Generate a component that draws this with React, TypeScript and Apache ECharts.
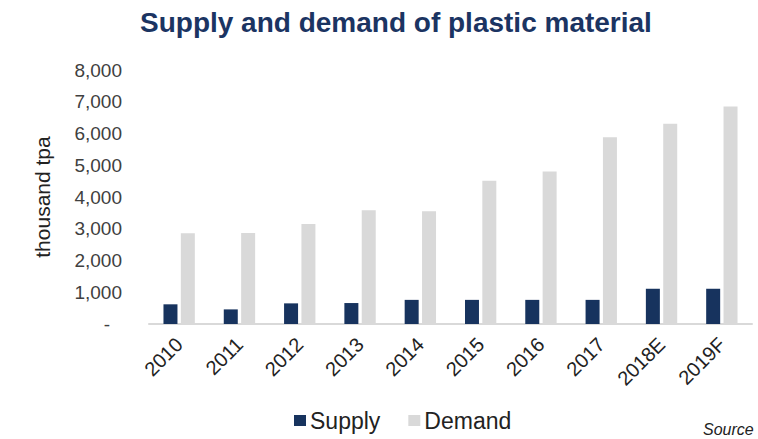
import React, { useEffect, useRef } from "react";
import * as echarts from "echarts";

const categories = ["2010", "2011", "2012", "2013", "2014", "2015", "2016", "2017", "2018E", "2019F"];
const supply = [620, 460, 650, 660, 760, 760, 760, 760, 1110, 1110];
const demand = [2860, 2870, 3150, 3580, 3550, 4510, 4800, 5880, 6310, 6850];
const yMin = 0;
const yMax = 8000;
const yInterval = 1000;

export default function App() {
  const ref = useRef<HTMLDivElement>(null);
  useEffect(() => {
    if (!ref.current) return;
    const chart = echarts.init(ref.current, undefined, { renderer: "svg" });
    const font = "Liberation Sans, Arial, sans-serif";
    chart.setOption({
      animation: false,
      backgroundColor: "#ffffff",
      title: {
        text: "Supply and demand of plastic material",
        left: 135,
        top: 3,
        textStyle: { fontFamily: font, fontSize: 28, fontWeight: "bold", color: "#1B3462" },
      },
      grid: { left: 149, right: 6, top: 70, bottom: 115, containLabel: false },
      legend: {
        data: ["Supply", "Demand"],
        left: 289,
        top: 404,
        itemWidth: 12,
        itemHeight: 11,
        itemGap: 28,
        icon: "rect",
        textStyle: { fontFamily: font, fontSize: 23, color: "#222222", padding: [0, 0, 0, -1] },
      },
      xAxis: {
        type: "category",
        data: categories,
        axisLine: { show: true, lineStyle: { color: "#D9D9D9", width: 2 } },
        axisTick: { show: false },
        axisLabel: {
          rotate: 45,
          interval: 0,
          margin: 17,
          fontFamily: font,
          fontSize: 20,
          color: "#222222",
        },
      },
      yAxis: {
        type: "value",
        min: yMin,
        max: yMax,
        interval: yInterval,
        name: "thousand tpa",
        nameLocation: "middle",
        nameRotate: 90,
        nameGap: 96,
        nameTextStyle: { fontFamily: font, fontSize: 21, color: "#222222" },
        splitLine: { show: false },
        axisLine: { show: false },
        axisTick: { show: false },
        axisLabel: {
          margin: 27,
          fontFamily: font,
          fontSize: 19,
          color: "#404040",
          formatter: (v: number) => (v === 0 ? "{z|-}" : v.toLocaleString("en-US")),
          rich: {
            z: { fontFamily: font, fontSize: 19, color: "#404040", padding: [0, 12, 0, 0] },
          },
        },
      },
      series: [
        {
          name: "Supply",
          type: "bar",
          data: supply,
          barWidth: 14,
          barGap: "24%",
          itemStyle: { color: "#17335E" },
        },
        {
          name: "Demand",
          type: "bar",
          data: demand,
          barWidth: 14,
          itemStyle: { color: "#D9D9D9" },
        },
      ],
      graphic: [
        {
          type: "text",
          left: 703,
          top: 421,
          style: {
            text: "Source",
            fontFamily: font,
            fontSize: 16,
            fontStyle: "italic",
            fill: "#222222",
          },
        },
      ],
    });
    return () => chart.dispose();
  }, []);
  return (
    <div
      ref={ref}
      style={{ position: "fixed", left: 0, top: 0, width: 758, height: 439 }}
    />
  );
}
